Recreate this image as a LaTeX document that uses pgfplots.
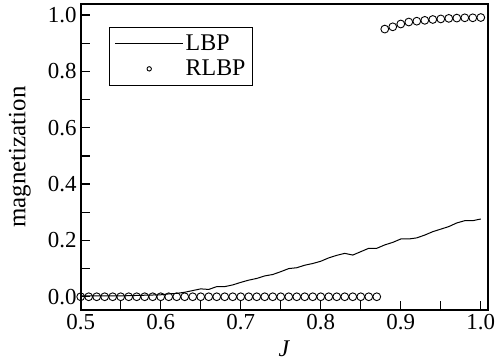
\documentclass[border=0pt]{standalone}
\usepackage{fontspec}
\setmainfont{Liberation Serif}
\newfontfamily\tickfont{Liberation Serif}
\usepackage{pgfplots}
\pgfplotsset{compat=1.18}
\begin{document}
\begin{tikzpicture}
\begin{axis}[
  scale only axis,
  width=407.3bp, height=306bp,
  xmin=0.5, xmax=1.009,
  ymin=-0.047, ymax=1.039,
  font=\fontsize{23}{27}\selectfont,
  xtick={0.5,0.6,0.7,0.8,0.9,1.0},
  ytick={0,0.2,0.4,0.6,0.8,1.0},
  xticklabels={0.5,0.6,0.7,0.8,0.9,1.0},
  yticklabels={0.0,0.2,0.4,0.6,0.8,1.0},
  xticklabel style={inner sep=4bp, font=\tickfont\fontsize{23}{27}\selectfont},
  yticklabel style={inner sep=4bp, font=\tickfont\fontsize{23}{27}\selectfont},
  minor x tick num=1, minor y tick num=1,
  xtick pos=bottom, ytick pos=left,
  tick align=inside,
  major tick length=9bp, minor tick length=9bp,
  every tick/.style={black, line width=1.3bp},
  axis line style={line width=1.8bp},
  xlabel={\textit{J}},
  ylabel={magnetization},
  every axis x label/.style={at={(axis description cs:0.5,0)}, anchor=center, yshift=-39bp, font=\fontsize{24}{28}\selectfont},
  every axis y label/.style={at={(axis description cs:0,0.5)}, rotate=90, anchor=center, yshift=61bp, font=\fontsize{25}{29}\selectfont},
  legend style={at={(0.07,0.926)}, anchor=north west, draw=black, line width=1bp, fill=white,
    font=\fontsize{24}{28}\selectfont, inner xsep=5bp, inner ysep=6bp, row sep=4bp,
    cells={anchor=west}},
  legend image code/.code={\draw[mark repeat=2,mark phase=2,#1] plot coordinates {(0bp,0bp) (34bp,0bp) (68bp,0bp)};},
  legend image post style={mark size=2.2bp},
]
\addplot[black, line width=1bp] coordinates {
(0.50,0.003) (0.55,0.003) (0.60,0.007) (0.61,0.010) (0.62,0.012) (0.63,0.016)
(0.64,0.022) (0.65,0.028) (0.66,0.026) (0.67,0.036) (0.68,0.036) (0.69,0.042)
(0.70,0.051) (0.71,0.059) (0.72,0.065) (0.73,0.074) (0.74,0.079) (0.75,0.089)
(0.76,0.100) (0.77,0.103) (0.78,0.112) (0.79,0.118) (0.80,0.126) (0.81,0.138)
(0.82,0.147) (0.83,0.154) (0.84,0.148) (0.85,0.160) (0.86,0.172) (0.87,0.172)
(0.88,0.184) (0.89,0.193) (0.90,0.205) (0.91,0.205) (0.92,0.209) (0.93,0.219)
(0.94,0.231) (0.95,0.240) (0.96,0.249) (0.97,0.262) (0.98,0.270) (0.99,0.270)
(1.00,0.276)
};
\addlegendentry{LBP}
\addplot[only marks, mark=o, mark size=3.9bp, black, mark options={line width=0.9bp}] coordinates {
(0.50,0) (0.51,0) (0.52,0) (0.53,0) (0.54,0) (0.55,0) (0.56,0) (0.57,0) (0.58,0) (0.59,0)
(0.60,0) (0.61,0) (0.62,0) (0.63,0) (0.64,0) (0.65,0) (0.66,0) (0.67,0) (0.68,0) (0.69,0)
(0.70,0) (0.71,0) (0.72,0) (0.73,0) (0.74,0) (0.75,0) (0.76,0) (0.77,0) (0.78,0) (0.79,0)
(0.80,0) (0.81,0) (0.82,0) (0.83,0) (0.84,0) (0.85,0) (0.86,0) (0.87,0)
(0.88,0.950) (0.89,0.958) (0.90,0.968) (0.91,0.975) (0.92,0.978) (0.93,0.981)
(0.94,0.984) (0.95,0.986) (0.96,0.988) (0.97,0.989) (0.98,0.990) (0.99,0.990) (1.00,0.991)
};
\addlegendentry{RLBP}
\end{axis}
\pgfresetboundingbox
\path ([shift={(-80.7bp,-52bp)}]current axis.south west) rectangle ([shift={(8bp,4bp)}]current axis.north east);
\end{tikzpicture}
\end{document}
